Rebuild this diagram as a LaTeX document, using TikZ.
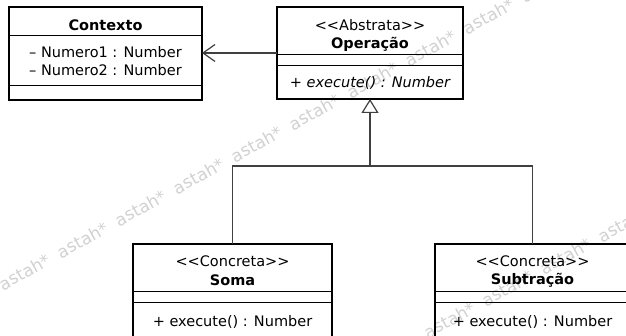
\documentclass[tikz,border=0pt]{standalone}
\usepackage{fontspec}
\usepackage{tikz}
\usetikzlibrary{arrows.meta, positioning, calc}

\newfontfamily\umlfont{DejaVu Sans}

\begin{document}
\begin{tikzpicture}[
      x=1pt, y=-1pt,
      compartment/.style={draw, line width=1pt, inner sep=0pt, outer sep=0pt,
        align=center, font=\umlfont\fontsize{14.5}{18.5}\selectfont},
      classname/.style={compartment, text height=#1},
      classframe/.style={line width=2.6pt},
      link/.style={draw=black!75, line width=1.2pt},
      watermark/.style={text=black!18, rotate=29, inner sep=0pt,
        font=\umlfont\fontsize{17}{17}\selectfont}
    ]
      \useasboundingbox (0,0) rectangle (626,336);

      % astah* stamp, two diagonal rows
      \foreach \k in {0,...,9}
        \node[watermark] (wm-a\k) at ($(25,272)+(\k*58,-\k*32)$) {astah*};
      \foreach \k in {0,...,3}
        \node[watermark] (wm-b\k) at ($(450,320)+(\k*58,-\k*32)$) {astah*};

      % Contexto
      \node[classname=18pt, anchor=north west, minimum width=193pt, minimum height=29pt]
        (ctx-name) at (9,7) {\bfseries Contexto};
      \node[compartment, below=0pt of ctx-name, minimum width=193pt, minimum height=50pt]
        (ctx-attr) {– Numero1 : Number\\– Numero2 : Number};
      \node[compartment, below=0pt of ctx-attr, minimum width=193pt, minimum height=14pt]
        (ctx-ops) {};
      \draw[classframe] (ctx-name.north west) rectangle (ctx-ops.south east);

      % Operacao
      \node[classname=39pt, anchor=north west, minimum width=186pt, minimum height=48pt]
        (op-name) at (277,7) {<<Abstrata>>\\\textbf{Operação}};
      \node[compartment, below=0pt of op-name, minimum width=186pt, minimum height=11pt]
        (op-attr) {};
      \node[compartment, below=0pt of op-attr, minimum width=186pt, minimum height=33pt]
        (op-ops) {\itshape + execute() : Number};
      \draw[classframe] (op-name.north west) rectangle (op-ops.south east);

      % Soma
      \node[classname=35pt, anchor=north west, minimum width=199pt, minimum height=48pt]
        (soma-name) at (133,244) {<<Concreta>>\\\textbf{Soma}};
      \node[compartment, below=0pt of soma-name, minimum width=199pt, minimum height=11pt]
        (soma-attr) {};
      \node[compartment, below=0pt of soma-attr, minimum width=199pt, minimum height=37pt]
        (soma-ops) {+ execute() : Number};
      \draw[classframe] (soma-name.north west) rectangle (soma-ops.south east);

      % Subtracao
      \node[classname=36pt, anchor=north west, minimum width=195pt, minimum height=48pt]
        (sub-name) at (435,244) {<<Concreta>>\\\textbf{Subtração}};
      \node[compartment, below=0pt of sub-name, minimum width=195pt, minimum height=11pt]
        (sub-attr) {};
      \node[compartment, below=0pt of sub-attr, minimum width=195pt, minimum height=37pt]
        (sub-ops) {+ execute() : Number};
      \draw[classframe] (sub-name.north west) rectangle (sub-ops.south east);

      % association and generalization
      \coordinate (assoc) at ([yshift=2pt]op-name.south west);
      \draw[link, -{Straight Barb[length=12pt, width=17pt]}]
        (assoc) -- (assoc -| ctx-attr.east);
      \coordinate (join) at (op-ops.south |- 0,166);
      \draw[link] (soma-name.north) |- (join) -| (sub-name.north);
      \draw[link, -{Triangle[open, length=14pt, width=17pt, fill=white]}]
        (join) -- (op-ops.south);
    \end{tikzpicture}
\end{document}
